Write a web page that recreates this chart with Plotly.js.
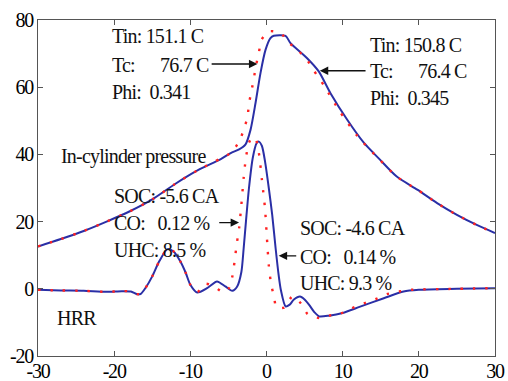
<!DOCTYPE html>
<html>
<head>
<meta charset="utf-8">
<script src="https://cdn.plot.ly/plotly-3.0.1.min.js"></script>
<style>
html,body{margin:0;padding:0;background:#fff;}
#chart{width:508px;height:381px;}
.xtick text, .ytick text{letter-spacing:-1.2px;}
.annotation-text{letter-spacing:-0.8px;}
</style>
</head>
<body>
<div id="chart"></div>
<script>
// Crank angle (CA) samples and values
var pExpX = [-30,-27,-24,-21,-18,-15,-12,-9,-6,-4.7,-3.6,-2.75,-2.1,-1.44,-0.79,-0.13,0.52,0.96,2.5,3.15,5.3,6.86,8.4,10.6,12.8,14.7,17.1,19.8,22.4,25,27.6,30];
var pExpY = [12.6,14.8,17.2,20.0,23.0,26.6,31.2,35.3,38.6,40.4,41.5,43.0,47.3,55.3,64.2,71.1,74.6,75.3,75.3,73.1,68.7,64.7,58.2,50.3,43.4,38.9,33.4,29.5,25.5,22.0,19.0,16.6];

var pSimX = [-30,-27,-24,-21,-18,-15,-12,-9,-6,-4.7,-3.6,-3.0,-2.5,-2.3,-1.97,-1.66,-1.35,-1.0,-0.66,0.3,1.84,2.9,4.15,5.3,6.2,7.6,9.5,12.0,14.7,17.1,19.8,22.4,25,27.6,30];
var pSimY = [12.6,14.8,17.2,20.0,23.0,26.6,31.2,35.3,38.8,40.4,43.8,47.3,51.1,55.1,58.9,62.7,66.7,70.3,74.1,76.6,76.1,73.3,70.9,68.2,65.0,60.3,53.2,45.3,38.8,33.4,29.5,25.5,22.0,19.0,16.6];

var hExpX = [-30,-27,-24,-21,-19,-17.8,-17,-16.5,-15.9,-15,-14.1,-13,-12.2,-11.3,-10.6,-10,-9.1,-7.8,-6.5,-5.4,-4.5,-3.85,-3.3,-3.0,-2.7,-2.3,-1.8,-1.3,-1.0,-0.6,-0.2,0.3,0.75,1.2,1.6,1.9,2.5,3.0,3.6,4.4,5.0,5.6,6.3,6.9,8.2,10,12.3,15.4,18,20,25,30];
var hExpY = [-0.3,-0.5,-0.6,-0.9,-0.7,-0.8,-1.6,-1.5,0.2,3.7,8.1,11.8,11.1,8.1,4.7,1.2,-1.1,0.2,2.2,0.7,-0.6,0.7,5.0,12.0,20.0,30.0,39.0,43.3,43.8,42.5,38.0,30.0,22.0,12.0,4.0,-0.5,-5.2,-4.8,-3.2,-2.3,-3.2,-4.8,-7.0,-8.2,-8.0,-7.2,-5.3,-2.8,-0.8,-0.3,0.0,0.2];

var hSimX = [-30,-27,-24,-21,-19,-17.8,-17,-16.5,-15.9,-15,-14.1,-13,-12.2,-11.3,-10.6,-10,-9.1,-8.0,-6.8,-5.6,-4.9,-4.5,-4.2,-3.9,-3.6,-3.3,-3.0,-2.7,-2.3,-1.8,-1.4,-1.0,-0.6,-0.2,0.1,0.3,0.6,1.0,1.3,2.3,3.4,4.5,5.4,6.9,8.2,9.7,11.2,12.8,14.3,15.8,17.4,19,25,30];
var hSimY = [-0.3,-0.5,-0.6,-0.9,-0.7,-0.8,-1.6,-1.5,0.2,3.7,8.1,11.8,11.1,8.1,4.7,1.2,-1.0,1.5,0.5,-1.1,0.3,3.5,8.0,13.5,18.0,25.0,33.0,39.0,43.5,45.2,44.5,40.4,32.4,24.0,13.6,7.0,1.5,-2.5,-5.5,-5.6,-2.3,-4.3,-7.5,-8.7,-8.0,-7.4,-5.8,-4.3,-3.1,-1.6,-0.8,-0.3,0.0,0.2];

var xTicks = [-30,-20,-10,0,10,20,30];
var yTicks = [-20,0,20,40,60,80];

var blue = '#2a2fa6';
var red = '#ff2222';
var serif = 'Liberation Serif, Times New Roman, serif';

var traces = [
  {x:pExpX, y:pExpY, mode:'lines', line:{color:blue, width:2, shape:'spline', smoothing:0.7}, hoverinfo:'skip'},
  {x:hExpX, y:hExpY, mode:'lines', line:{color:blue, width:2, shape:'spline', smoothing:0.7}, hoverinfo:'skip'},
  {x:pSimX, y:pSimY, mode:'lines', line:{color:red, width:2.4, dash:'2.4px,10px', shape:'spline', smoothing:0.7}, hoverinfo:'skip'},
  {x:hSimX, y:hSimY, mode:'lines', line:{color:red, width:2.4, dash:'2.4px,10px', shape:'spline', smoothing:0.7}, hoverinfo:'skip'}
];

var nb = '\u00A0';
function txt(x, y, s) {
  return {x:x, y:y, xref:'x', yref:'y', text:s, showarrow:false, xanchor:'left', yanchor:'middle',
          font:{family:serif, size:20, color:'#111'}};
}
function arr(x, y, ax, ay) {
  return {x:x, y:y, ax:ax, ay:ay, xref:'x', yref:'y', axref:'x', ayref:'y', text:'', showarrow:true,
          arrowhead:2, arrowsize:1.3, arrowwidth:1.3, arrowcolor:'#111', standoff:0, startstandoff:0};
}

var annotations = [
  txt(-20.6, 75.1, 'Tin:' + nb + '151.1' + nb + 'C'),
  txt(-20.6, 66.7, 'Tc:' + nb+nb+nb+nb+nb+nb + '76.7' + nb + 'C'),
  txt(-20.6, 58.7, 'Phi:' + nb+nb + '0.341'),
  txt(-27.2, 39.4, 'In-cylinder pressure'),
  txt(13.3, 72.6, 'Tin:' + nb + '150.8' + nb + 'C'),
  txt(13.3, 64.7, 'Tc:' + nb+nb+nb+nb+nb+nb + '76.4' + nb + 'C'),
  txt(13.3, 56.8, 'Phi:' + nb+nb + '0.345'),
  txt(-20.3, 27.5, 'SOC:' + nb + '-5.6' + nb + 'CA'),
  txt(-20.3, 19.6, 'CO:' + nb+nb+nb + '0.12' + nb + '%'),
  txt(-20.3, 11.6, 'UHC:' + nb + '8.5' + nb + '%'),
  txt(-27.8, -8.6, 'HRR'),
  txt(4.1, 18.1, 'SOC:' + nb + '-4.6' + nb + 'CA'),
  txt(4.1, 9.6, 'CO:' + nb+nb+nb + '0.14' + nb + '%'),
  txt(4.1, 1.7, 'UHC:' + nb + '9.3' + nb + '%'),
  arr(-1.2, 66.9, -7.4, 66.9),
  arr(7.0, 64.9, 13.2, 64.9),
  arr(-3.6, 19.7, -6.4, 19.7),
  arr(1.6, 9.8, 4.1, 9.8)
];

var axisCommon = {
  showgrid:false, zeroline:false, showline:true, linecolor:'#555', linewidth:1,
  mirror:'ticks', ticks:'inside', ticklen:5, tickcolor:'#555', tickwidth:1,
  tickfont:{family:serif, size:20, color:'#000'}
};

var layout = {
  width:508, height:381,
  margin:{l:38, r:13, t:20, b:25, pad:0},
  paper_bgcolor:'#fff', plot_bgcolor:'#fff',
  showlegend:false,
  xaxis:Object.assign({}, axisCommon, {range:[-30,30], tickvals:xTicks, ticktext:xTicks.map(String), ticklabelstandoff:-3}),
  yaxis:Object.assign({}, axisCommon, {range:[-20,80], tickvals:yTicks, ticktext:yTicks.map(String)}),
  annotations:annotations
};

Plotly.newPlot('chart', traces, layout, {displayModeBar:false, staticPlot:true});
</script>
</body>
</html>
